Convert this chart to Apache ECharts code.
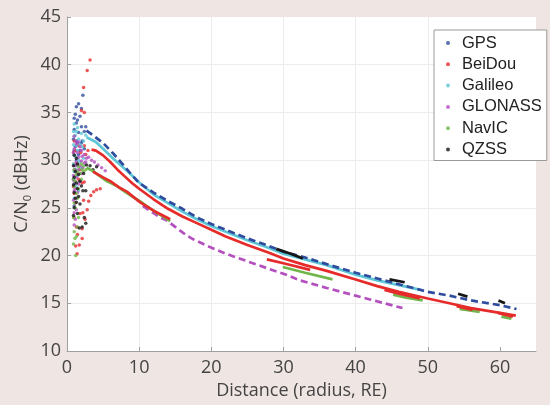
<!DOCTYPE html>
<html>
<head>
<meta charset="utf-8">
<title>C/N0 vs distance</title>
<script src="https://cdn.jsdelivr.net/npm/echarts@6/dist/echarts.min.js"></script>
<style>
  html, body { margin: 0; padding: 0; background: #efe5e2; }
  #chart { width: 550px; height: 405px; }
</style>
</head>
<body>
<div id="chart"></div>
<script>
// legend order
const systems = ['GPS', 'BeiDou', 'Galileo', 'GLONASS', 'NavIC', 'QZSS'];
const colors = ['#2f4c9e', '#e62b2b', '#5ec6d6', '#b450be', '#70b64a', '#161616'];

const xTicks = [0, 10, 20, 30, 40, 50, 60];

// scattered points close to Earth (distance, C/N0)
const gpsCluster = [[1.0,34.4],[1.0,33.2],[1.0,31.0],[1.0,29.5],[1.0,27.5],[1.0,25.2],[1.3,35.6],[1.3,33.9],[1.3,32.0],[1.3,30.0],
  [1.6,35.9],[1.6,32.9],[1.6,30.6],[2.0,33.5],[2.0,31.8],[2.2,36.8],[2.4,33.0],[2.4,31.2],
  [0.9,32.2],[0.9,28.0],[1.15,34.8],[1.15,31.4],[1.15,29.0],[1.45,34.2],[1.45,31.8],[1.8,34.6],[1.8,31.0],[2.1,32.0],
  [2.6,33.5],[2.0,35.4]];
const beidouCluster = [[3.2,40.5],[2.8,39.4],[2.3,37.6],[2.0,35.2],[2.4,35.0],[1.0,32.0],[1.0,29.6],[1.0,26.5],[1.0,24.0],[1.2,21.0],
  [1.4,20.2],[1.3,23.0],[1.6,31.5],[1.6,28.0],[1.7,21.1],[1.9,30.8],[2.1,27.6],[2.1,21.8],[2.1,22.8],[2.4,27.7],[2.4,31.5],
  [2.5,23.8],[2.8,24.8],[3.0,25.7],[3.3,26.3],[3.7,26.7],[4.1,26.9],[4.6,27.0],[2.2,24.5],[2.3,25.8],
  [0.9,30.8],[0.9,27.2],[1.15,31.0],[1.15,25.5],[1.45,29.6],[1.45,22.2],[1.8,29.0],[1.8,24.4],[2.6,30.6],[2.9,31.0]];
const galileoCluster = [[1.0,33.8],[1.0,32.5],[1.0,30.6],[1.0,28.8],[1.0,26.0],[1.3,33.0],[1.3,31.5],[1.3,29.4],[1.3,27.2],
  [1.6,32.2],[1.6,30.0],[1.6,26.8],[2.0,32.8],[2.0,29.2],[2.3,32.0],[2.3,30.2],
  [0.9,33.0],[0.9,31.6],[0.9,29.6],[1.15,32.6],[1.15,30.4],[1.45,33.4],[1.45,31.0],[1.45,28.4],[1.8,31.6],[1.8,29.8],
  [2.1,31.4],[2.6,32.6]];
const glonassCluster = [[1.0,32.5],[1.0,31.2],[1.0,29.0],[1.0,27.8],[1.0,26.8],[1.0,24.5],[1.0,23.2],[1.3,31.7],[1.3,29.8],[1.3,28.2],
  [1.3,26.0],[1.3,24.8],[1.6,31.9],[1.6,30.3],[1.6,29.0],[1.6,27.5],[2.0,31.0],[2.0,29.9],[2.0,28.6],[2.4,30.6],[2.4,29.7],
  [2.7,30.2],[3.0,30.3],[3.4,30.0],[3.8,29.8],[4.3,29.5],[4.8,29.2],[5.3,28.9],
  [0.9,30.8],[0.9,28.4],[0.9,25.8],[1.15,32.0],[1.15,29.4],[1.15,27.0],[1.15,23.8],[1.45,30.8],[1.45,28.6],[1.45,26.6],
  [1.8,31.4],[1.8,29.4],[1.8,27.8],[2.1,30.4],[2.2,29.2],[2.6,29.8]];
const navicCluster = [[1.0,29.0],[1.0,27.2],[1.0,25.5],[1.0,22.5],[1.1,21.8],[1.2,20.0],[1.3,28.5],[1.3,26.5],[1.3,22.0],
  [1.6,29.3],[1.6,27.0],[1.6,24.0],[2.0,29.6],[2.0,28.0],[2.3,29.4],[2.3,28.8],
  [0.9,28.0],[0.9,24.0],[0.9,21.2],[1.15,27.8],[1.15,25.0],[1.45,28.8],[1.45,26.0],[1.45,23.0],[1.8,28.6],[2.1,29.0],[2.6,29.0]];
const qzssCluster = [[1.0,30.5],[1.0,28.2],[1.0,26.6],[1.0,25.0],[1.3,30.2],[1.3,27.6],[1.3,25.6],[1.6,28.5],[1.6,26.2],[1.7,22.9],
  [2.0,27.3],[2.1,23.0],[2.2,26.8],[2.6,26.8],[2.7,29.5],[3.2,29.4],[4.1,29.3],[3.6,29.0],
  [0.9,29.4],[0.9,27.4],[0.9,24.2],[1.15,28.8],[1.15,26.0],[1.45,29.6],[1.45,27.0],[1.45,24.4],[1.8,27.8],[1.8,25.4],
  [2.3,28.6],[2.4,24.0],[2.6,23.4]];

// main curves
const gpsCurve = [[2.7,33.1],[3.6,32.6],[5,31.8],[6.4,30.7],[7.8,29.5],[8.7,28.7],[10,27.6],[12,26.6],[14,25.7],[16,24.9],
  [18,24.0],[20,23.3],[22,22.7],[25,21.8],[28,21.0],[30,20.4],[33,19.8],[36,19.1],[40,18.2],[43,17.6],[46,17.0],[50,16.2],
  [53,15.8],[56,15.3],[60,14.8],[62.3,14.4]];
const beidouCurve = [[3.4,31.1],[4,31.0],[5,30.5],[6,29.8],[7,29.0],[8,28.3],[9,27.6],[10,27.0],[12,25.9],[14,24.9],[16,24.1],
  [18,23.4],[20,22.7],[22,22.0],[25,21.1],[28,20.3],[30,19.7],[33,19.0],[36,18.4],[40,17.5],[43,16.8],[46,16.2],[50,15.5],
  [53,15.0],[56,14.5],[60,14.0],[62.2,13.7]];
const galileoCurve = [[2.7,32.4],[4,31.9],[5,31.2],[6.5,30.1],[8.3,28.9],[10.1,27.6],[12,26.4],[14,25.5],[16,24.6],[18,23.8],
  [20,23.1],[22,22.5],[25,21.6],[28,20.8],[30,20.2],[33,19.6],[36,19.0],[40,18.0],[43,17.4],[46,16.9],[49,16.4]];
const glonassCurve = [[10.5,25.2],[11.9,24.5],[12.9,24.0],[13.8,23.7],[15,23.0],[16.6,22.1],[17.5,21.7],[19.8,20.9],[22,20.2],
  [25,19.4],[28,18.6],[30,18.1],[32.3,17.4],[36,16.6],[40,15.8],[42,15.4],[44,15.0],[46.5,14.5]];

// short tracks
const beidouSegs = [
  [[3.6,28.8],[5,28.2],[6,27.8],[7.3,27.1],[8.3,26.7],[10.1,25.6],[12,24.7],[14.3,23.8]],
  [[27.7,19.6],[30,19.2],[33.7,18.5]],
  [[44,16.4],[46,16.0],[48.9,15.5]],
  [[54,14.7],[56.2,14.3]],
  [[59.7,14.0],[61.8,13.6]]
];
const navicSegs = [
  [[2.7,29.2],[3.5,28.9],[4.6,28.3],[5.5,27.8],[6.9,27.3],[8,26.7],[9,26.2],[10.1,25.7],[11,25.2],[12.4,24.5],[13.5,24.0],[14.3,23.6]],
  [[29.9,18.8],[33,18.2],[36.8,17.5]],
  [[45.2,15.9],[47,15.6],[49.3,15.3]],
  [[54.4,14.4],[57.2,14.1]],
  [[60.2,13.6],[61.6,13.4]]
];
const qzssSegs = [
  [[29,20.7],[31,20.2],[32.7,19.7]],
  [[44.7,17.5],[46.8,17.2]],
  [[54.2,16.0],[55.5,15.7]],
  [[59.8,15.3],[60.7,15.0]]
];

const chart = echarts.init(document.getElementById('chart'));
const labelFont = '"Open Sans", "Noto Sans", sans-serif';
const labelColor = '#444444';

function dots(idx, data) {
  return {
    name: systems[idx], type: 'scatter', data: data,
    symbolSize: 3.5, itemStyle: { color: colors[idx] }
  };
}

function track(idx, data, dashed) {
  return {
    name: systems[idx], type: 'line', data: data,
    showSymbol: false, symbol: 'none',
    itemStyle: { color: colors[idx] },
    lineStyle: { color: colors[idx], width: 2.7, type: dashed ? [7, 4] : 'solid' }
  };
}

let series = [
  dots(0, gpsCluster), dots(1, beidouCluster), dots(2, galileoCluster),
  dots(3, glonassCluster), dots(4, navicCluster), dots(5, qzssCluster),
  track(3, glonassCurve, true)
];
navicSegs.forEach(s => series.push(track(4, s)));
beidouSegs.forEach(s => series.push(track(1, s)));
series.push(track(1, beidouCurve));
series.push(track(2, galileoCurve));
series.push(track(0, gpsCurve, true));
qzssSegs.forEach(s => series.push(track(5, s)));

const option = {
  animation: false,
  backgroundColor: '#efe5e2',
  grid: {
    left: 67, right: 14, top: 17, bottom: 50,
    show: true, backgroundColor: '#ffffff', borderWidth: 0
  },
  legend: {
    data: systems.map(n => ({ name: n, icon: 'circle' })),
    orient: 'vertical',
    left: 434, top: 30,
    padding: [4, 5, 2, 12],
    itemWidth: 4, itemHeight: 4, itemGap: 3.3,
    backgroundColor: '#ffffff',
    borderColor: '#999999', borderWidth: 1, borderRadius: 0,
    selectedMode: false,
    textStyle: {
      fontFamily: '"Liberation Sans", Arial, sans-serif',
      fontSize: 16.5, color: '#222222', lineHeight: 18,
      padding: [0, 0, 0, 7]
    }
  },
  xAxis: {
    type: 'value', min: 0, max: 65, interval: 10,
    name: 'Distance (radius, RE)', nameLocation: 'middle', nameGap: 31,
    nameTextStyle: { fontFamily: labelFont, fontSize: 18, color: labelColor },
    axisLine: { lineStyle: { color: '#a0a0a0', width: 1 } },
    axisTick: { inside: true, length: 4, lineStyle: { color: '#a0a0a0' }, customValues: xTicks },
    axisLabel: { fontFamily: labelFont, fontSize: 18, color: labelColor, margin: 8, customValues: xTicks },
    splitLine: { show: true, showMaxLine: false, lineStyle: { color: '#ececec', width: 1 } }
  },
  yAxis: {
    type: 'value', min: 10, max: 45, interval: 5,
    name: 'C/N{sub|0} (dBHz)', nameLocation: 'middle', nameGap: 34, nameRotate: 90,
    nameMoveOverlap: false,
    nameTextStyle: {
      fontFamily: labelFont, fontSize: 18, color: labelColor, lineHeight: 22,
      rich: { sub: { fontFamily: labelFont, fontSize: 11, color: labelColor, lineHeight: 10, verticalAlign: 'bottom' } }
    },
    axisLine: { show: true, lineStyle: { color: '#a0a0a0', width: 1 } },
    axisTick: { show: true, inside: true, length: 4, lineStyle: { color: '#a0a0a0' } },
    axisLabel: { fontFamily: labelFont, fontSize: 18, color: labelColor, margin: 6 },
    splitLine: { show: true, showMaxLine: false, lineStyle: { color: '#ececec', width: 1 } }
  },
  series: series
};

chart.setOption(option);
</script>
</body>
</html>
